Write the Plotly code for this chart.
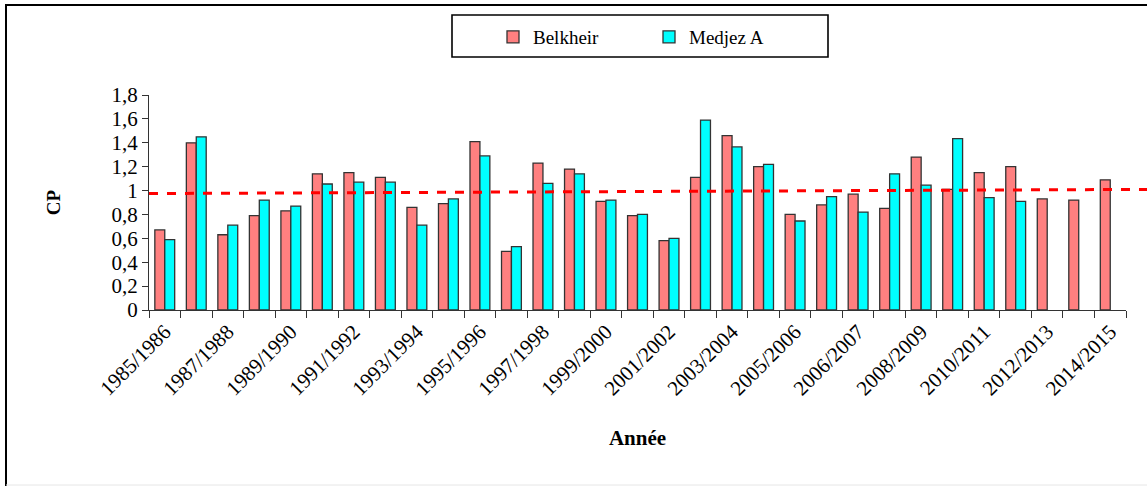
import plotly.graph_objects as go

# --- données ---
etiquettes = ["1985/1986", "1987/1988", "1989/1990", "1991/1992", "1993/1994",
              "1995/1996", "1997/1998", "1999/2000", "2001/2002", "2003/2004",
              "2005/2006", "2006/2007", "2008/2009", "2010/2011", "2012/2013",
              "2014/2015"]

belkheir = [0.67, 1.40, 0.63, 0.79, 0.83, 1.14, 1.15, 1.11, 0.86, 0.89,
            1.41, 0.49, 1.23, 1.18, 0.91, 0.79, 0.58, 1.11, 1.46, 1.20,
            0.80, 0.88, 0.97, 0.85, 1.28, 1.01, 1.15, 1.20, 0.93, 0.92, 1.09]
medjez = [0.59, 1.45, 0.71, 0.92, 0.87, 1.055, 1.07, 1.07, 0.71, 0.93,
          1.29, 0.53, 1.06, 1.14, 0.92, 0.80, 0.60, 1.59, 1.365, 1.22,
          0.745, 0.95, 0.82, 1.14, 1.045, 1.435, 0.94, 0.91, None, None, None]

# droite de tendance (début, fin)
tendance = [0.975, 1.01]

# --- mise en page (pixels écran) ---
W, H = 1147, 486
GAUCHE, DROITE, HAUT, BAS = 149, 1126, 95, 310   # zone de tracé
PW, PH = DROITE - GAUCHE, BAS - HAUT


def px(x):
    return (x - GAUCHE) / PW


def py(y):
    return (BAS - y) / PH


POLICE = "Liberation Serif, Times New Roman, serif"
x = list(range(len(belkheir)))

fig = go.Figure()
fig.add_trace(go.Bar(x=x, y=belkheir, name="Belkheir",
                     marker=dict(color="#FF8080", line=dict(color="#333333", width=1.3))))
fig.add_trace(go.Bar(x=x, y=medjez, name="Medjez A",
                     marker=dict(color="#00FFFF", line=dict(color="#333333", width=1.3))))

fig.update_layout(
    template="none",
    width=W, height=H,
    margin=dict(l=GAUCHE, r=W - DROITE, t=HAUT, b=H - BAS, autoexpand=False),
    paper_bgcolor="white", plot_bgcolor="white",
    font=dict(family=POLICE, size=21, color="black"),
    separators=", ",
    barmode="group", bargap=0.37, bargroupgap=0,
    showlegend=True,
    legend=dict(orientation="h", x=px(493), xanchor="left", y=py(37), yanchor="middle",
                font=dict(size=19), bgcolor="rgba(0,0,0,0)", borderwidth=0,
                entrywidth=111, entrywidthmode="pixels"),
)

fig.update_xaxes(
    automargin=False,
    range=[-0.5, len(belkheir) - 0.5],
    tickmode="array", tickvals=x[::2], ticktext=etiquettes,
    tickangle=-45, ticks="", showgrid=False, zeroline=False,
    showline=True, linecolor="#333333", linewidth=1.3,
    minor=dict(tickmode="linear", tick0=-0.5, dtick=1, ticks="outside",
               ticklen=7, tickcolor="#333333", tickwidth=1.3, showgrid=False),
    title=dict(text="<b>Année</b>", font=dict(size=21), standoff=30),
)
fig.update_yaxes(
    automargin=False,
    range=[0, 1.8], dtick=0.2, showgrid=False, zeroline=False,
    showline=True, linecolor="#333333", linewidth=1.3,
    ticks="outside", ticklen=6, tickcolor="#333333", tickwidth=1.3,
    title=dict(text="<b>CP</b>", font=dict(size=19), standoff=45),
)

# droite de tendance pointillée rouge
fig.add_shape(type="line", xref="paper", yref="y",
              x0=0, x1=px(W + 5), y0=tendance[0], y1=tendance[1],
              line=dict(color="#FF0000", width=3, dash="dash"))

# cadre de la légende
fig.add_shape(type="rect", xref="paper", yref="paper",
              x0=px(452), x1=px(828), y0=py(57), y1=py(15),
              line=dict(color="black", width=1.6), layer="below")

# cadre du graphique : haut et gauche noirs, bas très clair
fig.add_shape(type="line", xref="paper", yref="paper",
              x0=px(5), x1=px(W + 5), y0=py(5), y1=py(5),
              line=dict(color="black", width=2), layer="below")
fig.add_shape(type="line", xref="paper", yref="paper",
              x0=px(6), x1=px(6), y0=py(5), y1=py(H + 5),
              line=dict(color="black", width=2), layer="below")
fig.add_shape(type="line", xref="paper", yref="paper",
              x0=px(6), x1=px(W + 5), y0=py(485), y1=py(485),
              line=dict(color="#e6e6e6", width=1), layer="below")

fig.write_html("out.html", config={"displayModeBar": False},
               post_script="document.body.style.margin = '0';")
